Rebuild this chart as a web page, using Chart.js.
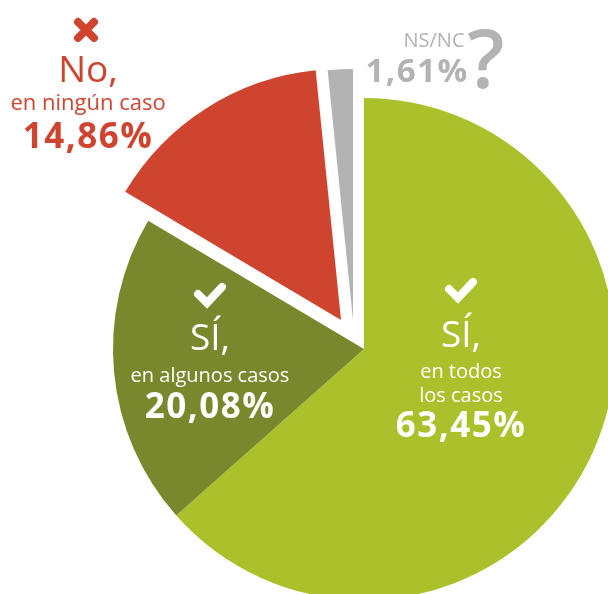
<!DOCTYPE html>
<html>
<head>
<meta charset="utf-8">
<script src="https://cdn.jsdelivr.net/npm/chart.js@4.4.1/dist/chart.umd.min.js"></script>
<style>
  html, body { margin: 0; padding: 0; background: #fff; overflow: hidden; }
  #pieChart { display: block; }
</style>
</head>
<body>
<canvas id="pieChart" width="608" height="594"></canvas>
<script>
// data
const categories = ['Sí, en todos los casos', 'Sí, en algunos casos', 'No, en ningún caso', 'NS/NC'];
const values = [63.45, 20.08, 14.86, 1.61];
const headLines = ['SÍ,', 'SÍ,', 'No,', ''];
const subLines = [['en todos', 'los casos'], ['en algunos casos'], ['en ningún caso'], ['NS/NC']];
const icons = ['check', 'check', 'cross', 'question'];

// styles
const colors = ['#abc12b', '#7a882d', '#cf442f', '#b3b3b3'];
const textColors = ['#ffffff', '#ffffff', '#cf442f', '#b3b3b3'];
const explode = [[0, 0], [0, 0], [-23, -29], [-11, -29]];
const FONT = '"Open Sans", "Noto Sans", sans-serif';

// label placement (page px): x, icon y, head baseline, sub baselines, pct baseline, font sizes
const labelPos = [
    { x: 461, icon: 290, head: 347, sub: [378, 402], pct: 437, subSize: 20, pctSize: 35 },
    { x: 210, icon: 295, head: 350, sub: [382], pct: 418, subSize: 20, pctSize: 35 },
    { x: 88, icon: 30, head: 82, sub: [110], pct: 148, subSize: 22, pctSize: 35 },
    { x: 434, icon: 0, head: 0, sub: [47], pct: 82, subSize: 20, pctSize: 33 }
];

const pct = v => v.toFixed(2).replace('.', ',') + '%';

function drawCheck(ctx, cx, cy, color) {
    ctx.save();
    ctx.strokeStyle = color;
    ctx.lineWidth = 8;
    ctx.lineCap = 'round';
    ctx.beginPath();
    ctx.moveTo(cx - 12, cy - 1);
    ctx.lineTo(cx - 3, cy + 8);
    ctx.lineTo(cx + 12, cy - 8);
    ctx.stroke();
    ctx.restore();
}

function drawCross(ctx, cx, cy, color) {
    ctx.save();
    ctx.strokeStyle = color;
    ctx.lineWidth = 8;
    ctx.lineCap = 'round';
    ctx.beginPath();
    ctx.moveTo(cx - 8, cy - 8);
    ctx.lineTo(cx + 8, cy + 8);
    ctx.moveTo(cx + 8, cy - 8);
    ctx.lineTo(cx - 8, cy + 8);
    ctx.stroke();
    ctx.restore();
}

const shiftPlugin = {
    id: 'shiftSlices',
    afterDatasetsUpdate(chart) {
        chart.getDatasetMeta(0).data.forEach((arc, i) => {
            arc.x += explode[i][0];
            arc.y += explode[i][1];
        });
    }
};

const labelPlugin = {
    id: 'sliceLabels',
    afterDatasetsDraw(chart) {
        const ctx = chart.ctx;
        ctx.save();
        ctx.textAlign = 'center';
        ctx.textBaseline = 'alphabetic';
        values.forEach((v, i) => {
            const p = labelPos[i];
            const c = textColors[i];
            ctx.fillStyle = c;
            ctx.letterSpacing = '0px';
            if (icons[i] === 'check') drawCheck(ctx, p.x, p.icon, c);
            if (icons[i] === 'cross') drawCross(ctx, p.x - 2, p.icon, c);
            if (headLines[i]) {
                ctx.font = '400 37px ' + FONT;
                ctx.fillText(headLines[i], p.x, p.head);
            }
            ctx.font = '400 ' + p.subSize + 'px ' + FONT;
            subLines[i].forEach((s, j) => ctx.fillText(s, p.x, p.sub[j]));
            if (icons[i] === 'question') {
                ctx.font = '600 82px ' + FONT;
                ctx.fillText('?', p.x + 52, 88);
            }
            ctx.font = '700 ' + p.pctSize + 'px ' + FONT;
            ctx.letterSpacing = '1.5px';
            ctx.fillText(pct(v), i === 3 ? p.x - 17 : p.x, p.pct);
        });
        ctx.restore();
    }
};

const ctx = document.getElementById('pieChart').getContext('2d');
new Chart(ctx, {
    type: 'pie',
    data: {
        labels: categories,
        datasets: [{
            data: values,
            backgroundColor: colors,
            borderWidth: 0,
            radius: 251,
            clip: false
        }]
    },
    options: {
        responsive: false,
        animation: false,
        layout: { padding: { left: 120, top: 104, right: 0, bottom: 0 } },
        plugins: {
            legend: { display: false },
            tooltip: { enabled: false }
        }
    },
    plugins: [shiftPlugin, labelPlugin]
});
</script>
</body>
</html>
